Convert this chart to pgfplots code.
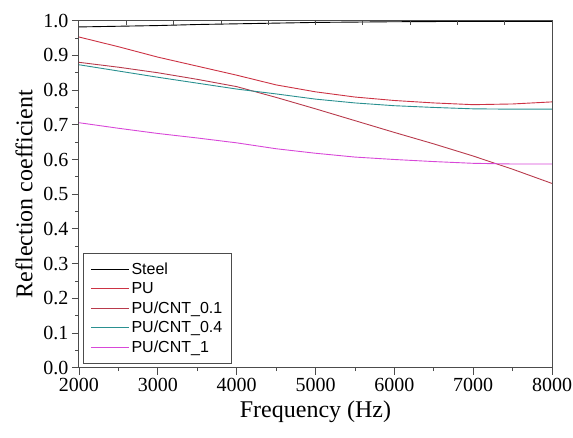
\documentclass[border=0pt]{standalone}
\usepackage{pgfplots}
\pgfplotsset{compat=1.18}
\usepackage{fontspec}
\setmainfont{Liberation Serif}
\newfontfamily\legfont{Liberation Sans}

\definecolor{cPU}{HTML}{CC3344}
\definecolor{cPUa}{HTML}{B83A4C}
\definecolor{cPUb}{HTML}{2A9090}
\definecolor{cPUc}{HTML}{D848D8}

\begin{document}
\begin{tikzpicture}
\useasboundingbox (-79pt,-70pt) rectangle (494pt,367.7pt);
\begin{axis}[
    scale only axis, width=473pt, height=347pt,
    at={(0,0)}, anchor=south west,
    xmin=2000, xmax=8000, ymin=0, ymax=1,
    xtick={2000,3000,...,8000}, minor xtick={2500,3500,...,7500},
    ytick={0,0.1,...,1.0}, minor ytick={0.05,0.15,...,0.95},
    xtick pos=bottom, ytick pos=left,
    tick align=outside,
    major tick length=7pt, minor tick length=3.5pt,
    every tick/.style={black!70, line width=0.8pt},
    axis line style={black!70, line width=1pt},
    x tick label style={/pgf/number format/.cd, fixed, 1000 sep={}, assume math mode=true},
    y tick label style={/pgf/number format/.cd, fixed, fixed zerofill, precision=1, assume math mode=true},
    tick label style={font=\rmfamily\fontsize{20}{22}\selectfont},
    scaled x ticks=false,
    xlabel={Frequency (Hz)}, ylabel={Reflection coefficient},
    label style={font=\rmfamily\fontsize{24}{26}\selectfont},
    xlabel style={yshift=-2pt},
    ylabel style={yshift=4pt},
    legend style={at={(rel axis cs:0.009,0.012)}, anchor=south west,
        draw=black!70, line width=0.8pt, font=\legfont\fontsize{16}{19}\selectfont,
        inner xsep=7pt, inner ysep=7pt, row sep=2.6pt, cells={anchor=west}},
    legend image code/.code={\draw[#1, line width=0.9pt] (0pt,0pt) -- (38pt,0pt);},
    every axis plot/.append style={line width=0.9pt, no marks},
]
\addplot[black] coordinates {(2000,0.982) (2500,0.984) (3000,0.986) (3500,0.989) (4000,0.991) (4500,0.993) (5000,0.995) (5500,0.996) (6000,0.997) (7000,0.998) (8000,0.998)};
\addlegendentry{Steel}
\addplot[color=cPU] coordinates {(2000,0.953) (2500,0.925) (3000,0.895) (3500,0.869) (4000,0.843) (4500,0.815) (5000,0.795) (5500,0.780) (6000,0.770) (6500,0.763) (7000,0.758) (7500,0.760) (8000,0.766)};
\addlegendentry{PU}
\addplot[color=cPUa] coordinates {(2000,0.880) (2500,0.866) (3000,0.850) (3500,0.831) (4000,0.810) (4500,0.779) (5000,0.746) (5500,0.712) (6000,0.678) (6500,0.645) (7000,0.610) (7500,0.572) (8000,0.531)};
\addlegendentry{PU/CNT\_0.1}
\addplot[color=cPUb] coordinates {(2000,0.873) (2500,0.855) (3000,0.837) (3500,0.820) (4000,0.803) (4500,0.789) (5000,0.774) (5500,0.763) (6000,0.755) (6500,0.750) (7000,0.746) (7500,0.745) (8000,0.745)};
\addlegendentry{PU/CNT\_0.4}
\addplot[color=cPUc] coordinates {(2000,0.706) (2500,0.690) (3000,0.675) (3500,0.662) (4000,0.648) (4500,0.631) (5000,0.618) (5500,0.607) (6000,0.600) (6500,0.594) (7000,0.589) (7500,0.587) (8000,0.587)};
\addlegendentry{PU/CNT\_1}
\end{axis}
% top axis with its own inward ticks
\begin{axis}[
    scale only axis, width=473pt, height=347pt,
    at={(0,0)}, anchor=south west,
    xmin=2000, xmax=8000, ymin=0, ymax=1,
    axis x line*=top, axis y line=none,
    xtick={2600,3200,...,7400}, xticklabels={},
    tick align=inside, major tick length=4pt,
    every tick/.style={black!70, line width=0.8pt},
    axis line style={black!70, line width=1pt},
]
\end{axis}
\draw[black!70, line width=1pt] (473pt,0pt) -- (473pt,347pt);
\end{tikzpicture}
\end{document}
